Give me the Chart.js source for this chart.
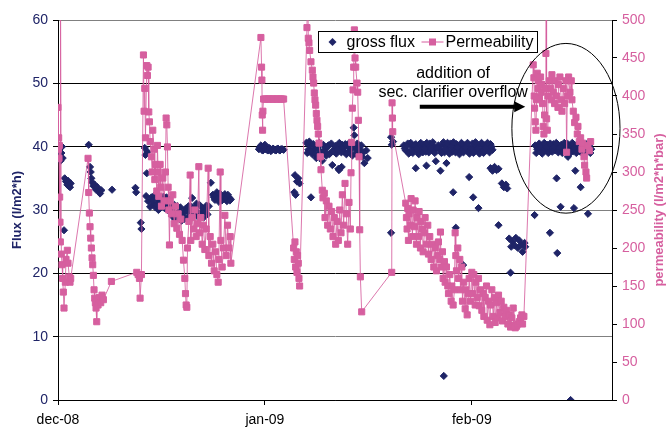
<!DOCTYPE html>
<html>
<head>
<meta charset="utf-8">
<script src="https://cdn.jsdelivr.net/npm/chart.js@4.4.0/dist/chart.umd.min.js"></script>
<style>
  html, body { margin: 0; padding: 0; background: #fff; }
</style>
</head>
<body>
<canvas id="my-chart" width="666" height="428"></canvas>
<script>
'use strict';

// x values are days counted from 1 dec 2008
let tickDays = [0, 31, 62];
let tickLabels = ['dec-08', 'jan-09', 'feb-09'];

let fluxDays = [
  0.0, 0.1, 0.2, 0.3, 0.4, 0.5, 0.6, 0.7, 0.9, 1.0, 1.2, 1.4, 1.5, 1.6, 1.8, 1.9,
  4.6, 4.8, 4.9, 5.0, 5.1, 5.3, 5.5, 5.7, 5.9, 6.1, 6.3, 6.5, 8.1, 11.6, 11.7, 12.4, 12.5,
  13.0, 13.1, 13.2, 13.3, 13.4, 13.5, 13.8, 14.0, 14.3, 14.6, 14.9, 15.2, 15.5, 15.8, 16.1, 16.4, 16.7,
  17.0, 17.3, 17.6, 17.9, 18.2, 18.5, 18.8, 19.1, 19.4, 19.7, 20.0, 20.1, 20.3, 20.6, 20.9, 21.2,
  21.5, 21.8, 22.1, 22.4, 22.6, 22.9, 23.2, 23.5, 23.8, 24.1, 24.4, 24.7, 25.0, 25.3, 25.6, 25.9,
  30.1, 30.4, 30.7, 31.0, 31.3, 31.6, 31.9, 32.2, 32.5, 32.8, 33.1, 33.4, 33.8,
  35.4, 35.5, 35.6, 35.8, 36.0, 36.2,
  37.2, 37.5, 37.8, 37.9, 38.1, 38.4, 38.7, 39.0, 39.3, 39.6, 39.9, 40.2, 40.5, 40.8, 41.1, 41.4,
  41.7, 42.0, 42.1, 42.3, 42.5, 42.6, 42.9, 43.2, 43.5, 43.8, 44.1, 44.3, 44.4, 44.7, 45.0, 45.3,
  45.6, 45.9, 46.2, 46.4,
  49.9, 49.9, 50.0, 50.2,
  51.8, 52.1, 52.4, 52.7, 53.0, 53.3, 53.6, 53.6, 53.9, 54.2, 54.5, 54.8, 55.1, 55.2, 55.4, 55.7,
  56.0, 56.3, 56.6, 56.6, 57.0,
  57.3, 57.3, 57.6, 57.8, 57.9, 58.2, 58.2, 58.5, 58.8, 59.1, 59.2, 59.4, 59.6, 59.7, 60.0, 60.3,
  60.6, 60.7, 60.9, 61.2, 61.5, 61.6, 61.8, 62.1, 62.2, 62.4, 62.7, 63.0, 63.0, 63.3, 63.6, 63.9,
  64.2, 64.5, 64.8, 64.8, 65.1, 65.1, 65.4, 65.7, 66.0, 66.0, 66.5, 66.8, 67.1, 67.3,
  67.6, 67.8, 67.9, 68.1, 68.4, 68.6, 68.9, 69.1, 69.4, 69.6, 69.9, 70.0,
  71.4, 71.5, 71.8, 72.1, 72.4, 72.7, 73.0, 73.3, 73.6, 73.7, 73.9, 74.2, 74.5, 74.7, 74.8, 74.8,
  75.1, 75.3, 75.4, 75.7, 76.0, 76.3, 76.4, 76.6, 76.8, 76.9, 77.2, 77.3, 77.5, 77.5, 77.8, 78.1,
  78.3, 78.4, 78.7, 79.0, 79.3, 79.4, 79.6, 79.9,
  // more readings inside the dense bands
  14.15, 14.45, 14.75, 15.05, 15.35, 15.65, 15.95, 16.25, 16.55, 17.15, 17.45, 17.75, 18.05, 18.35,
  18.65, 18.95, 19.25, 19.55, 19.85, 20.45, 20.75, 21.05, 21.35, 21.65, 21.95, 22.25, 23.35, 23.65,
  23.95, 24.25, 24.55, 24.85, 25.15, 25.45, 25.75,
  30.25, 30.55, 30.85, 31.15, 31.45, 31.75, 32.05, 32.35, 32.65, 32.95, 33.25, 33.6,
  37.35, 37.65, 37.95, 38.25, 38.55, 38.85, 39.15, 39.45, 39.75, 40.05, 40.35, 40.65, 40.95, 41.25,
  41.55, 41.85, 42.15, 42.45, 42.75, 43.05, 43.35, 43.65, 43.95, 44.25, 44.55, 44.85, 45.15, 45.45, 45.75,
  51.95, 52.25, 52.55, 52.85, 53.15, 53.45, 53.75, 54.05, 54.35, 54.65, 54.95, 55.25, 55.55, 55.85,
  56.15, 56.45, 56.8,
  57.45, 57.75, 58.05, 58.35, 58.65, 58.95, 59.25, 59.55, 59.85, 60.15, 60.45, 60.75, 61.05, 61.35,
  61.65, 61.95, 62.25, 62.55, 62.85, 63.15, 63.45, 63.75, 64.05, 64.35, 64.65, 64.95,
  71.65, 71.95, 72.25, 72.55, 72.85, 73.15, 73.45, 73.75, 74.05, 74.35, 74.65, 74.95, 75.25, 75.55,
  75.85, 76.15, 76.45, 76.75, 77.05, 77.35, 77.65, 77.95, 78.25, 78.55, 78.85, 79.15, 79.45, 79.75
];
let fluxValues = [
  39.5, 40.2, 38.5, 39.8, 37.8, 39.0, 40.0, 38.2, 26.8, 35.0, 34.5, 34.0, 34.6, 33.8, 33.6, 34.2,
  40.3, 36.8, 36.0, 35.0, 34.4, 33.8, 34.0, 33.2, 33.6, 33.0, 32.6, 33.1, 33.2, 33.5, 32.8, 28.0, 27.0,
  39.8, 38.7, 32.2, 35.8, 39.2, 31.4, 30.5, 32.0, 31.0, 30.4, 31.8, 31.2, 30.6, 32.1, 31.5, 30.8, 31.2,
  30.2, 29.4, 28.5, 30.6, 29.8, 28.3, 29.5, 30.2, 28.8, 29.6, 30.5, 31.9, 29.2, 30.4, 29.0, 30.8,
  29.6, 28.8, 30.1, 29.3, 30.6, 34.3, 32.4, 31.6, 32.8, 31.3, 32.2, 31.8, 32.5, 31.4, 32.0, 31.7,
  39.6, 40.2, 39.4, 40.3, 39.5, 39.8, 39.3, 39.7, 39.5, 39.6, 39.5, 39.6, 39.5,
  32.8, 35.5, 32.4, 34.5, 35.0, 34.2,
  40.6, 39.5, 40.2, 32.0, 38.8, 39.6, 38.2, 40.0, 39.2, 37.8, 39.5, 38.6, 40.2, 39.0, 37.1, 39.6,
  38.9, 36.5, 36.3, 39.8, 36.8, 40.3, 39.2, 38.8, 40.0, 39.4, 38.6, 43.0, 41.8, 39.6, 40.1, 39.2,
  38.4, 37.4, 39.4, 38.2,
  41.5, 26.4, 40.3, 40.8,
  40.2, 39.4, 40.5, 39.2, 40.1, 39.6, 40.4, 36.6, 39.3, 40.0, 39.5, 40.3, 39.2, 37.0, 39.8, 40.5,
  39.4, 40.0, 39.6, 37.7, 40.2,
  39.5, 36.2, 40.3, 3.8, 39.1, 40.0, 37.4, 39.4, 40.5, 39.2, 32.8, 39.8, 27.2, 40.4, 39.3, 40.1,
  39.6, 21.3, 40.2, 39.4, 40.0, 35.2, 39.2, 40.5, 32.0, 39.6, 40.1, 39.3, 30.3, 40.3, 39.5, 40.2,
  39.4, 39.9, 40.4, 36.6, 39.5, 36.2, 36.8, 36.3, 36.5, 27.6, 34.2, 33.6, 34.0, 33.4,
  25.5, 20.1, 24.2, 25.0, 24.4, 25.6, 24.0, 25.2, 24.5, 23.4, 24.8, 24.2,
  29.2, 40.2, 39.6, 40.5, 39.4, 40.1, 39.5, 40.3, 39.3, 26.4, 39.9, 40.4, 39.4, 35.0, 40.0, 23.2,
  39.6, 30.5, 40.3, 39.4, 39.9, 40.5, 38.4, 39.5, 0.0, 40.1, 39.3, 30.3, 36.2, 40.2, 39.6, 40.0,
  33.6, 39.4, 40.3, 39.7, 39.5, 29.4, 40.1, 39.6,
  // more readings inside the dense bands
  31.5, 32.3, 30.9, 30.0, 31.7, 31.0, 30.3, 32.0, 29.9, 29.0, 30.8, 29.2, 28.9, 30.4,
  29.1, 28.6, 29.9, 30.6, 28.9, 29.8, 31.0, 29.5, 28.9, 30.3, 29.8, 30.7, 32.0, 32.3,
  31.9, 32.6, 31.5, 32.1, 31.9, 32.4, 31.5,
  39.9, 39.5, 39.8, 39.6, 39.4, 39.7, 39.5, 39.6, 39.4, 39.7, 39.4, 39.6,
  39.0, 40.8, 39.3, 40.4, 38.9, 39.8, 40.6, 38.7, 40.3, 39.1, 39.9, 38.8, 40.5, 39.3,
  40.1, 39.5, 40.6, 39.1, 39.7, 40.4, 39.0, 40.6, 39.8, 40.3, 38.9, 40.5, 39.7, 40.2, 39.1,
  39.7, 40.1, 38.9, 40.6, 39.0, 40.2, 39.7, 38.8, 40.6, 39.1, 39.7, 40.6, 39.1, 39.8,
  40.7, 39.0, 39.8,
  39.0, 40.7, 39.6, 40.6, 38.9, 40.0, 40.7, 39.1, 39.9, 38.8, 40.6, 39.1, 39.9, 40.6,
  38.9, 39.7, 39.0, 40.7, 39.7, 38.9, 40.6, 39.0, 39.8, 40.6, 39.1, 40.0,
  39.0, 39.9, 40.0, 38.9, 40.6, 39.9, 39.0, 40.5, 39.2, 40.0, 40.6, 39.1, 40.0, 39.0,
  40.6, 39.2, 40.0, 39.0, 40.6, 39.8, 39.0, 40.5, 39.2, 39.9, 39.0, 40.4, 39.9, 39.0
];

let permDays = [
  0.0, 0.05, 0.1, 0.15, 0.2, 0.25, 0.3, 0.35, 0.4, 0.5, 0.6, 0.7, 0.8, 0.9, 1.1, 1.2, 1.4, 1.5, 1.7, 1.8, 1.9,
  4.5, 4.6, 4.7, 4.8, 4.9, 5.0, 5.1, 5.2, 5.3, 5.4, 5.5, 5.6, 5.7, 5.8, 5.9, 6.0, 6.2, 6.4, 6.6, 6.8, 8.0,
  11.8, 12.0, 12.2, 12.3, 12.5,
  12.8, 12.9, 13.0, 13.1, 13.3, 13.4, 13.5, 13.6, 13.7, 13.8, 14.0, 14.1, 14.2, 14.4, 14.5, 14.6, 14.8,
  14.9, 15.0, 15.1, 15.3, 15.4, 15.5, 15.7, 15.9, 16.1, 16.2, 16.3, 16.4, 16.5, 16.6, 16.7, 16.8, 17.0,
  17.2, 17.4, 17.6, 17.8, 18.0, 18.2, 18.4, 18.6, 18.8, 19.0, 19.1, 19.2, 19.3, 19.4, 19.6, 19.8, 19.9,
  20.1, 20.3, 20.5, 20.7, 20.9, 21.1, 21.2, 21.4, 21.6, 21.8, 22.0, 22.2, 22.5, 22.6, 22.8, 23.0, 23.2,
  23.4, 23.6, 23.8, 24.0, 24.1, 24.3, 24.4, 24.6, 24.8, 25.0, 25.2, 25.4, 25.6, 25.8, 25.9,
  30.4, 30.5, 30.55, 30.6, 30.65, 30.7, 30.8, 31.0, 31.2, 31.4, 31.6, 31.8, 32.0, 32.2, 32.4, 32.6,
  32.8, 33.0, 33.2, 33.4, 33.6, 33.8,
  35.3, 35.4, 35.5, 35.6, 35.7, 35.8, 35.9, 36.0, 36.1, 36.2,
  37.3, 37.4, 37.5, 37.6, 37.7, 37.9, 38.1, 38.2, 38.3, 38.4, 38.5, 38.6, 38.7, 38.8, 38.9, 39.0,
  39.1, 39.3, 39.4, 39.6, 39.7, 39.9, 40.0, 40.2, 40.4, 40.6, 40.8, 41.0, 41.2, 41.4, 41.6, 41.8,
  42.0, 42.2, 42.4, 42.6, 42.8, 43.0, 43.2, 43.4, 43.6, 43.8,
  43.9, 44.0, 44.1, 44.2, 44.3, 44.4, 44.5, 44.6, 44.8, 44.9, 45.0, 45.1, 45.2, 45.3, 45.5,
  50.0, 50.05, 50.1, 50.15,
  52.1, 52.2, 52.3, 52.4, 52.5, 52.6, 52.8, 52.9, 53.1, 53.2, 53.4, 53.5, 53.7, 53.8, 54.0, 54.1,
  54.3, 54.4, 54.6, 54.7, 54.9, 55.0, 55.2, 55.4, 55.5, 55.7, 55.9, 56.1, 56.3, 56.5, 56.7, 56.9,
  57.0, 57.2, 57.3, 57.4, 57.6, 57.7, 57.9, 58.0, 58.2, 58.4, 58.5, 58.7, 58.9, 59.0, 59.2, 59.4,
  59.5, 59.6, 59.7, 59.9, 60.0, 60.2, 60.3, 60.5, 60.6, 60.8, 61.0, 61.1, 61.3, 61.5, 61.6, 61.8,
  62.0, 62.1, 62.3, 62.5, 62.6, 62.8, 63.0, 63.1, 63.3, 63.5, 63.7, 63.8, 64.0, 64.2, 64.3, 64.5,
  64.7, 64.8, 65.0, 65.2, 65.4, 65.5, 65.7, 65.9, 66.0, 66.2, 66.4, 66.6, 66.8, 67.0, 67.2, 67.4,
  67.6, 67.8, 68.0, 68.2, 68.3, 68.5, 68.7, 68.9, 69.1, 69.3, 69.5, 69.6, 69.8,
  71.2, 71.3, 71.35, 71.4, 71.5, 71.6, 71.7, 71.8, 71.9, 72.0, 72.1, 72.3, 72.4, 72.5, 72.6, 72.7,
  72.8, 72.9, 73.0, 73.1, 73.15, 73.2, 73.3, 73.4, 73.6, 73.8, 73.9, 74.0, 74.2, 74.4, 74.5, 74.7,
  74.9, 75.0, 75.2, 75.4, 75.5, 75.7, 75.9, 76.1, 76.2, 76.3, 76.5, 76.7, 76.9, 77.0, 77.2, 77.4,
  77.6, 77.8, 77.9, 78.1, 78.3, 78.5, 78.6, 78.8, 78.9, 79.1, 79.2, 79.4, 79.6, 79.8
];
let permValues = [
  385, 330, 345, 318, 335, 267, 234, 208, 560, 192, 178, 160, 142, 121, 155, 185, 197, 180, 162, 155, 160,
  318, 273, 246, 228, 213, 200, 187, 178, 164, 145, 134, 128, 121, 103, 130, 125, 135, 128, 138, 132, 156,
  168, 165, 160, 134, 165,
  454, 380, 410, 345, 440, 427, 438, 379, 366, 340, 320, 300, 355, 330, 290, 310, 275,
  335, 300, 268, 310, 280, 255, 292, 262, 300, 371, 362, 333, 280, 250, 204, 262, 245,
  270, 232, 255, 226, 245, 218, 238, 210, 184, 160, 140, 125, 122, 200, 235, 296, 210,
  240, 225, 250, 215, 232, 307, 220, 240, 205, 230, 198, 225, 305, 190, 215, 180, 205,
  170, 195, 165, 155, 185, 300, 210, 175, 200, 243, 190, 230, 200, 215, 180,
  477, 438, 421, 375, 355, 380, 396, 396, 396, 396, 396, 396, 396, 396, 396, 396,
  396, 396, 396, 396, 396, 396,
  200, 185, 208, 175, 195, 168, 190, 180, 160, 150,
  490, 560, 476, 470, 460, 445, 434, 425, 417, 404, 395, 388, 377, 368, 360, 350,
  338, 320, 303, 276, 266, 272, 240, 262, 230, 255, 225, 248, 215, 240, 205, 235,
  210, 250, 220, 270, 230, 285, 245, 205, 260, 225,
  299, 339, 384, 408, 438, 487, 450, 438, 417, 405, 368, 320, 224, 162, 116,
  168, 391, 371, 353,
  259, 240, 225, 252, 210, 245, 230, 265, 215, 250, 228, 262, 205, 240, 215, 248,
  200, 235, 225, 195, 220, 240, 205, 230, 192, 215, 185, 205, 175, 200, 170, 190,
  208, 185, 221, 175, 195, 160, 182, 155, 175, 150, 140, 165, 130, 150, 125, 145,
  220, 190, 170, 200, 160, 185, 145, 175, 130, 155, 120, 145, 112, 140, 160, 130,
  168, 140, 165, 125, 155, 135, 160, 124, 145, 118, 140, 110, 135, 150, 105, 130,
  99, 125, 145, 110, 135, 102, 128, 108, 138, 115, 130, 104, 122, 110, 118, 100,
  112, 96, 108, 121, 98, 95, 97, 100, 103, 108, 112, 100, 110,
  441, 424, 400, 384, 366, 355, 395, 430, 410, 420, 398, 425, 405, 415, 390, 360,
  350, 375, 410, 456, 560, 370, 355, 400, 420, 410, 395, 428, 405, 390, 420, 400,
  385, 415, 425, 395, 380, 410, 390, 420, 326, 400, 425, 405, 420, 395, 380, 365,
  372, 350, 360, 340, 345, 330, 338, 320, 309, 300, 292, 335, 328, 340
];

let navy = '#1f2467';
let pink = '#d65f9f';
let fontFamily = '"Liberation Sans", Arial, sans-serif';

let canvasElem = document.getElementById('my-chart');

let fluxPoints = [];
for (let i = 0; i < fluxDays.length; i++) {
  fluxPoints.push({ x: fluxDays[i], y: fluxValues[i] });
}
let permPoints = [];
for (let i = 0; i < permDays.length; i++) {
  permPoints.push({ x: permDays[i], y: permValues[i] });
}

// legend box, axis titles and the ellipse / arrow note
let decorPlugin = {
  id: 'decor',
  afterDraw(chart) {
    let ctx = chart.ctx;
    let area = chart.chartArea;
    let xs = chart.scales.x;
    let ys = chart.scales.y;
    ctx.save();

    // axis titles
    ctx.font = 'bold 13px ' + fontFamily;
    ctx.textAlign = 'center';
    ctx.textBaseline = 'middle';
    ctx.fillStyle = navy;
    ctx.save();
    ctx.translate(17, (area.top + area.bottom) / 2);
    ctx.rotate(-Math.PI / 2);
    ctx.fillText('Flux (l/m2*h)', 0, 0);
    ctx.restore();
    ctx.fillStyle = pink;
    ctx.save();
    ctx.translate(659, (area.top + area.bottom) / 2);
    ctx.rotate(-Math.PI / 2);
    ctx.fillText('permeability (l/m2*h*bar)', 0, 0);
    ctx.restore();

    // legend
    let lx = area.left + 260.5;
    let ly = area.top + 11.5;
    ctx.fillStyle = '#fff';
    ctx.fillRect(lx, ly, 219, 21);
    ctx.strokeStyle = '#000';
    ctx.lineWidth = 1;
    ctx.strokeRect(lx, ly, 219, 21);
    ctx.fillStyle = navy;
    ctx.beginPath();
    ctx.moveTo(lx + 14, ly + 6.5);
    ctx.lineTo(lx + 18, ly + 10.5);
    ctx.lineTo(lx + 14, ly + 14.5);
    ctx.lineTo(lx + 10, ly + 10.5);
    ctx.closePath();
    ctx.fill();
    ctx.font = '16px ' + fontFamily;
    ctx.textAlign = 'left';
    ctx.fillStyle = '#000';
    ctx.fillText('gross flux', lx + 28, ly + 11.5);
    ctx.strokeStyle = pink;
    ctx.beginPath();
    ctx.moveTo(lx + 103, ly + 10.5);
    ctx.lineTo(lx + 125, ly + 10.5);
    ctx.stroke();
    ctx.fillStyle = pink;
    ctx.fillRect(lx + 110.5, ly + 7, 7, 7);
    ctx.fillStyle = '#000';
    ctx.fillText('Permeability', lx + 127, ly + 11.5);

    // note text
    ctx.textAlign = 'center';
    ctx.fillText('addition of', xs.getPixelForValue(59.2), ys.getPixelForValue(51.6));
    ctx.fillText('sec. clarifier overflow', xs.getPixelForValue(59.2), ys.getPixelForValue(48.5));

    // arrow
    let ax0 = xs.getPixelForValue(54.2);
    let ax1 = xs.getPixelForValue(70.0);
    let ay = ys.getPixelForValue(46.3);
    ctx.strokeStyle = '#000';
    ctx.lineWidth = 4;
    ctx.beginPath();
    ctx.moveTo(ax0, ay);
    ctx.lineTo(ax1 - 9, ay);
    ctx.stroke();
    ctx.fillStyle = '#000';
    ctx.beginPath();
    ctx.moveTo(ax1, ay);
    ctx.lineTo(ax1 - 11, ay - 5.5);
    ctx.lineTo(ax1 - 11, ay + 5.5);
    ctx.closePath();
    ctx.fill();

    // ellipse
    let ecx = xs.getPixelForValue(76.1);
    let ecy = ys.getPixelForValue(42.9);
    let erx = xs.getPixelForValue(76.1 + 8.1) - ecx;
    let ery = ys.getPixelForValue(42.9 - 13.4) - ecy;
    ctx.lineWidth = 1;
    ctx.beginPath();
    ctx.ellipse(ecx, ecy, erx, ery, 0, 0, Math.PI * 2);
    ctx.stroke();

    ctx.restore();
  }
};

let tickFont = { size: 14, family: fontFamily };

let chartObj = {
  type: 'scatter',
  data: {
    datasets: [{
      label: 'gross flux',
      data: fluxPoints,
      yAxisID: 'y',
      showLine: false,
      pointStyle: 'rectRot',
      pointRadius: 3.6,
      backgroundColor: navy,
      borderColor: navy,
      borderWidth: 1,
      order: 2
    },
    {
      label: 'Permeability',
      type: 'line',
      data: permPoints,
      yAxisID: 'y2',
      pointStyle: 'rect',
      pointRadius: 4.3,
      pointBorderWidth: 1,
      pointBackgroundColor: pink,
      pointBorderColor: pink,
      backgroundColor: pink,
      borderColor: 'rgba(214, 95, 159, 0.85)',
      borderWidth: 1,
      tension: 0,
      order: 1
    }]
  },
  options: {
    responsive: false,
    animation: false,
    layout: { padding: { top: 20 } },
    plugins: {
      legend: { display: false },
      tooltip: { enabled: false }
    },
    scales: {
      x: {
        type: 'linear',
        min: 0,
        max: 83,
        afterBuildTicks: (scale) => {
          scale.ticks = tickDays.map((v) => ({ value: v }));
        },
        afterFit: (scale) => { scale.height = 28; },
        ticks: {
          color: '#000',
          font: tickFont,
          padding: 7,
          maxRotation: 0,
          autoSkip: false,
          callback: (v) => tickLabels[tickDays.indexOf(v)]
        },
        grid: { drawOnChartArea: false, tickLength: 5, color: '#000' },
        border: { color: '#000' }
      },
      y: {
        position: 'left',
        min: 0,
        max: 60,
        afterFit: (scale) => { scale.width = 58; },
        ticks: { stepSize: 10, color: navy, font: tickFont, padding: 5 },
        grid: {
          color: (c) => ([10, 30, 60].includes(c.tick.value) ? '#808080' : '#000'),
          tickColor: '#000',
          tickLength: 5
        },
        border: { color: '#000' }
      },
      y2: {
        position: 'right',
        min: 0,
        max: 500,
        afterFit: (scale) => { scale.width = 54; },
        ticks: { stepSize: 50, color: pink, font: tickFont, padding: 5 },
        grid: { drawOnChartArea: false, tickLength: 5, color: '#000' },
        border: { color: '#000' }
      }
    }
  },
  plugins: [decorPlugin]
};

new Chart(canvasElem, chartObj); //eslint-disable-line
</script>
</body>
</html>
